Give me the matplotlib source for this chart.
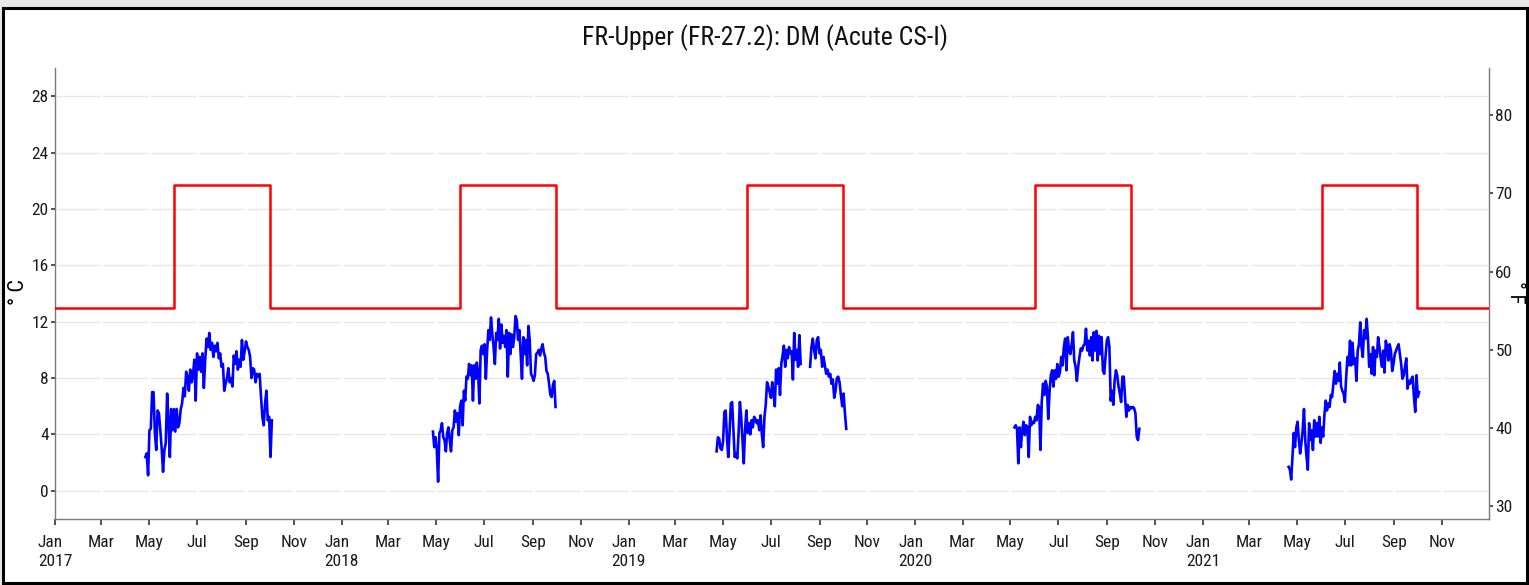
import numpy as np
import pandas as pd
import matplotlib
matplotlib.use("Agg")
import matplotlib.pyplot as plt
import matplotlib.dates as mdates
import matplotlib.ticker as mticker
from matplotlib.patches import Rectangle
from matplotlib import font_manager as fm

# ---------------- data ----------------
title = "FR-Upper (FR-27.2): DM (Acute CS-I)"
x_start, x_end = "2017-01-01", "2021-12-31"

criterion_years = [2017, 2018, 2019, 2020, 2021]
criterion_low = 13.0
criterion_high = 21.7
criterion_high_from = "06-01"
criterion_high_to = "10-01"

t2017_dates = ("2017-04-26", "2017-10-04")
t2017 = [2.4, 2.65, 1.1, 4.3, 4.4, 7.0, 7.0, 4.1, 2.9, 5.7, 5.5, 4.3, 3.0, 1.35, 2.9, 3.4,
         6.9, 5.0, 2.4, 5.8, 4.3, 5.8, 4.2, 5.8, 4.5, 4.8, 5.8, 6.2, 7.3, 6.7, 8.45, 8.1,
         7.1, 8.6, 7.7, 8.2, 9.3, 6.4, 9.75, 8.6, 9.5, 8.45, 9.75, 7.3, 9.3, 10.8, 10.2,
         11.2, 10.0, 10.5, 9.5, 10.3, 9.9, 10.5, 9.4, 9.75, 8.8, 9.0, 7.1, 7.6, 8.0, 8.7,
         7.7, 8.0, 7.4, 9.6, 9.0, 9.9, 8.6, 9.3, 8.8, 10.7, 9.3, 9.9, 10.6, 10.2, 10.0,
         9.5, 8.0, 8.7, 8.6, 7.7, 8.3, 8.1, 8.3, 6.7, 5.25, 4.65, 6.2, 7.1, 5.0, 5.25,
         2.4, 5.0]

t2018_dates = ("2018-04-27", "2018-09-30")
t2018 = [4.2, 3.1, 3.8, 2.9, 0.65, 4.1, 4.3, 4.8, 3.8, 3.6, 2.8, 4.1, 4.5, 3.6, 2.8, 4.3,
         4.5, 5.7, 4.9, 5.5, 3.95, 5.95, 6.4, 4.65, 7.1, 6.4, 8.1, 7.95, 9.0, 8.2, 8.9,
         6.4, 8.9, 7.95, 9.1, 8.4, 6.2, 10.0, 10.3, 9.7, 10.4, 7.95, 10.0, 11.4, 10.7,
         12.3, 11.1, 10.2, 9.0, 11.2, 10.7, 12.2, 10.1, 11.8, 10.5, 11.0, 10.2, 11.4, 8.1,
         11.2, 9.7, 11.1, 10.2, 10.9, 12.4, 12.1, 10.7, 11.4, 9.7, 7.95, 10.9, 9.7, 10.7,
         8.9, 11.7, 10.7, 8.3, 8.1, 7.8, 8.2, 9.7, 9.8, 10.0, 9.6, 10.1, 10.4, 9.8, 9.5,
         8.5, 8.3, 7.6, 6.8, 6.65, 7.5, 7.8, 5.95]

t2019a_dates = ("2019-04-23", "2019-08-08")
t2019a = [2.8, 3.8, 3.7, 3.0, 2.9, 3.5, 5.6, 5.7, 3.8, 2.4, 4.1, 6.2, 6.3, 4.3, 2.4, 2.65,
          2.3, 4.1, 6.3, 5.25, 3.6, 1.95, 4.3, 5.7, 4.1, 4.8, 4.0, 5.0, 4.5, 5.25, 5.1,
          4.8, 5.0, 4.3, 5.35, 4.0, 3.1, 5.25, 6.1, 7.7, 7.4, 7.0, 6.6, 7.7, 6.9, 6.0,
          8.6, 7.6, 8.7, 6.8, 9.0, 9.6, 10.3, 8.8, 10.0, 9.4, 10.2, 9.75, 9.9, 7.9, 11.2,
          9.3, 10.0, 8.8, 11.05, 9.0]
t2019b_dates = ("2019-08-20", "2019-10-05")
t2019b = [8.8, 10.2, 10.8, 10.0, 9.4, 10.7, 10.9, 9.75, 10.0, 8.8, 9.5, 8.9, 8.3, 8.6,
          8.1, 8.3, 7.6, 7.9, 6.6, 7.1, 8.0, 8.1, 7.7, 6.8, 6.0, 6.9, 5.5, 4.4]

t2020_dates = ("2020-05-06", "2020-10-12")
t2020 = [4.5, 4.65, 4.4, 1.95, 4.5, 3.1, 4.3, 4.9, 3.95, 4.65, 4.5, 2.4, 5.25, 4.65, 4.9,
         4.8, 5.25, 5.0, 6.1, 5.95, 2.9, 6.3, 7.6, 6.8, 7.8, 7.4, 5.1, 7.0, 8.2, 8.55, 7.4,
         8.55, 7.95, 9.0, 8.1, 8.4, 9.5, 8.9, 10.2, 10.8, 8.55, 10.9, 9.95, 9.7, 10.4,
         11.25, 9.25, 8.8, 7.8, 8.8, 9.5, 10.1, 9.95, 10.3, 10.4, 11.5, 9.95, 10.65, 9.6,
         10.9, 9.25, 11.25, 9.95, 11.35, 9.25, 11.0, 9.7, 10.9, 8.55, 8.3, 9.5, 10.65,
         10.9, 10.2, 6.4, 7.1, 6.1, 7.8, 8.55, 8.2, 7.4, 6.9, 6.3, 8.1, 8.1, 6.65, 5.25,
         6.1, 5.7, 5.95, 5.85, 5.95, 5.85, 5.5, 3.85, 3.6, 4.4]

t2021_dates = ("2021-04-20", "2021-10-03")
t2021 = [1.7, 1.5, 0.8, 2.4, 4.1, 3.1, 4.5, 4.9, 3.6, 2.65, 3.4, 4.3, 5.8, 3.6, 2.4, 1.5,
         4.8, 3.6, 4.3, 2.9, 5.0, 3.85, 4.8, 3.85, 5.25, 3.4, 4.5, 3.85, 5.4, 6.4, 5.7,
         6.2, 5.95, 6.8, 6.65, 7.6, 8.5, 7.6, 8.3, 7.8, 9.1, 7.4, 7.1, 6.9, 6.3, 8.1, 9.5,
         8.9, 10.65, 8.9, 10.5, 9.0, 9.4, 7.8, 9.95, 10.4, 11.95, 10.2, 9.5, 11.4, 10.8,
         12.2, 10.9, 8.8, 9.7, 8.3, 10.2, 8.2, 9.95, 9.5, 10.9, 10.2, 9.4, 8.8, 9.95, 8.4,
         10.65, 10.2, 9.25, 10.4, 9.95, 8.5, 9.0, 9.7, 9.95, 10.2, 10.4, 9.7, 9.0, 7.95,
         8.2, 8.8, 9.4, 7.25, 7.8, 7.6, 7.95, 8.1, 6.65, 5.6, 8.2, 6.65, 7.0]

temp_segments = [(t2017_dates, t2017), (t2018_dates, t2018), (t2019a_dates, t2019a),
                 (t2019b_dates, t2019b), (t2020_dates, t2020), (t2021_dates, t2021)]

y_ticks_c = [0, 4, 8, 12, 16, 20, 24, 28]
y_ticks_f = [30, 40, 50, 60, 70, 80]
ylim_c = (-2, 30)

# ---------------- font: prefer a condensed sans ----------------
entries = fm.fontManager.ttflist
names = {f.name for f in entries}
chosen = None
for n in ['Liberation Sans Narrow', 'Arial Narrow', 'Roboto Condensed', 'Open Sans Condensed',
          'Noto Sans Condensed', 'DejaVu Sans Condensed']:
    if n in names:
        chosen = (n, 'normal')
        break
if chosen is None:
    for fam in ['Liberation Sans', 'Noto Sans', 'Roboto', 'Open Sans', 'DejaVu Sans', 'Lato', 'Inter']:
        for f in entries:
            st = str(f.stretch)
            if f.name == fam and st in ('condensed', 'semi-condensed') and f.style == 'normal' \
                    and str(f.weight) in ('400', 'normal', 'regular', 'book'):
                chosen = (fam, st)
                break
        if chosen:
            break
if chosen is None:
    chosen = ('Liberation Sans', 'normal')
    tick_fs, title_fs, lab_fs = 11.5, 16.5, 15
else:
    tick_fs, title_fs, lab_fs = 12.5, 18.5, 16
plt.rcParams['font.family'] = [chosen[0], 'DejaVu Sans']
plt.rcParams['font.stretch'] = chosen[1]

# ---------------- figure ----------------
W, H = 1529, 585
fig = plt.figure(figsize=(W / 100, H / 100), dpi=100)
fig.patch.set_facecolor('#e8e8e6')
fig.patches.append(Rectangle((3 / W, 2 / H), (W - 5) / W, (H - 10) / H,
                             transform=fig.transFigure, facecolor='white',
                             edgecolor='black', linewidth=2.2, zorder=-10))

ax = fig.add_axes([55 / W, 66 / H, (1489 - 55) / W, (519 - 68) / H])
ax.set_facecolor('white')

crit_dates = [pd.Timestamp(x_start)]
crit_vals = [criterion_low]
for yr in criterion_years:
    crit_dates += [pd.Timestamp(f"{yr}-{criterion_high_from}"), pd.Timestamp(f"{yr}-{criterion_high_to}")]
    crit_vals += [criterion_high, criterion_low]
crit_dates.append(pd.Timestamp(x_end))
crit_vals.append(criterion_low)
ax.plot(crit_dates, crit_vals, drawstyle='steps-post', color='#ff0000', lw=1.8, zorder=3)

for (d0, d1), vals in temp_segments:
    dates = pd.to_datetime(np.linspace(pd.Timestamp(d0).value, pd.Timestamp(d1).value, len(vals)))
    ax.plot(dates, vals, color='#0000ff', lw=1.9, zorder=4)

ax.set_xlim(pd.Timestamp(x_start), pd.Timestamp(x_end))
ax.set_ylim(*ylim_c)
ax.set_yticks(y_ticks_c)

ax.xaxis.set_major_locator(mdates.MonthLocator(bymonth=[1, 3, 5, 7, 9, 11]))
def fmt(x, pos):
    d = mdates.num2date(x)
    return d.strftime('%b\n%Y') if d.month == 1 else d.strftime('%b')
ax.xaxis.set_major_formatter(mticker.FuncFormatter(fmt))

ax.tick_params(axis='x', length=4.5, width=1.2, color='#333333', pad=7, labelsize=tick_fs, labelcolor='#1a1a1a')
ax.tick_params(axis='y', length=3, width=1.2, color='#333333', pad=1.5, labelsize=tick_fs, labelcolor='#1a1a1a')
fig.canvas.draw()
for lab in ax.xaxis.get_majorticklabels():
    lab.set_multialignment('left')
    lab.set_linespacing(1.3)

ax.grid(axis='y', color='#e6e6e6', lw=1.0)
ax.grid(axis='x', color='white', lw=2.0)
ax.yaxis.set_zorder(0.4)
ax.xaxis.set_zorder(0.5)

for s in ['top', 'right']:
    ax.spines[s].set_visible(False)
for s in ['left', 'bottom']:
    ax.spines[s].set_color('#7a7a7a')
    ax.spines[s].set_linewidth(1.0)

c2f = lambda c: np.asarray(c) * 9 / 5 + 32
f2c = lambda f: (np.asarray(f) - 32) * 5 / 9
sec = ax.secondary_yaxis('right', functions=(c2f, f2c))
sec.set_yticks(y_ticks_f)
sec.spines['right'].set_color('#7a7a7a')
sec.spines['right'].set_linewidth(1.0)
sec.tick_params(axis='y', length=3, width=1.2, color='#333333', pad=1.5, labelsize=tick_fs, labelcolor='#1a1a1a')

fig.text(18 / W, 1 - 292 / H, '° C', rotation=90, ha='center', va='center', fontsize=lab_fs)
fig.text(1515 / W, 1 - 292 / H, '° F', rotation=270, ha='center', va='center', fontsize=lab_fs - 1)
fig.text(0.5, 1 - 38 / H, title, ha='center', va='center', fontsize=title_fs, color='#111111')

fig.savefig('out.png', dpi=100, facecolor=fig.get_facecolor())
